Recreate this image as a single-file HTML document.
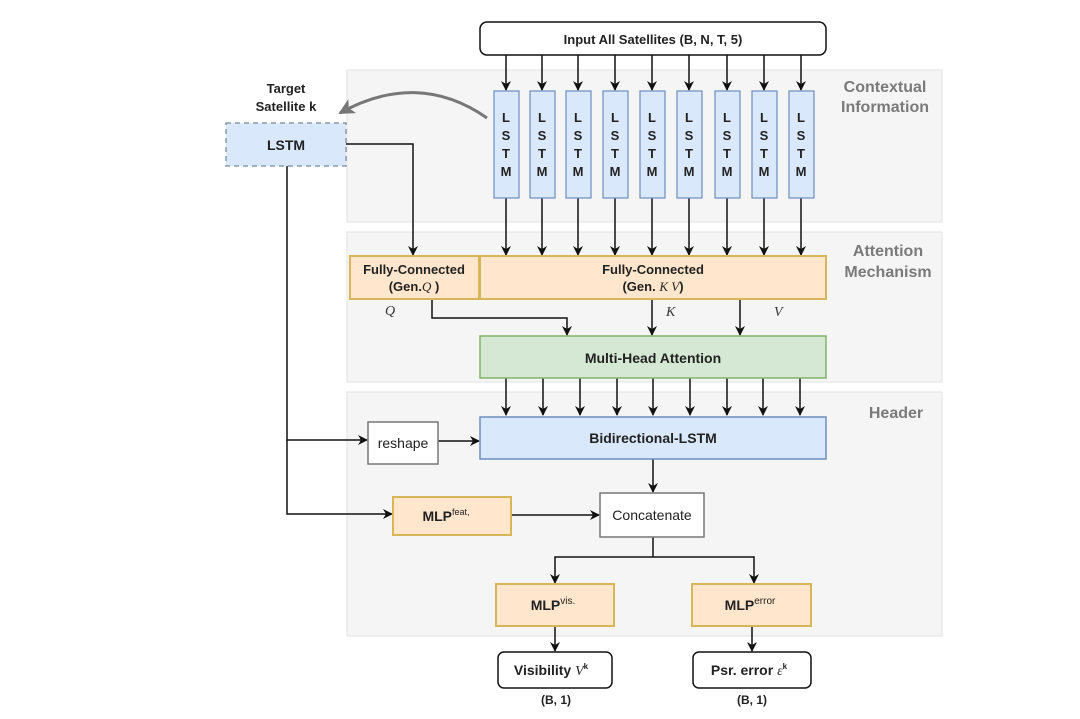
<!DOCTYPE html>
<html><head><meta charset="utf-8"><style>
html,body{margin:0;padding:0;background:#fff;}
svg{display:block;font-family:"Liberation Sans",sans-serif;}
</style></head><body>
<svg width="1080" height="719" viewBox="0 0 1080 719" xmlns="http://www.w3.org/2000/svg">
<defs>
<marker id="a" markerWidth="10" markerHeight="10" refX="9" refY="5" orient="auto" markerUnits="userSpaceOnUse">
<path d="M0,0 L10,5 L0,10 L3,5 z" fill="#111"/></marker>
<marker id="g" markerWidth="16" markerHeight="16" refX="14" refY="8" orient="auto" markerUnits="userSpaceOnUse">
<path d="M0,0 L16,8 L0,16 L4,8 z" fill="#777"/></marker>
</defs>
<rect x="347" y="70" width="595" height="152" fill="#f5f5f5" stroke="#e2e2e2"/>
<rect x="347" y="232" width="595" height="150" fill="#f5f5f5" stroke="#e2e2e2"/>
<rect x="347" y="392" width="595" height="244" fill="#f5f5f5" stroke="#e2e2e2"/>
<g fill="#7a7a7a" font-weight="bold" font-size="16" text-anchor="middle">
<text x="885" y="92">Contextual</text><text x="885" y="112">Information</text>
<text x="888" y="256">Attention</text><text x="888" y="277">Mechanism</text>
<text x="896" y="418">Header</text></g>
<rect x="480" y="22" width="346" height="33" rx="7" fill="#fff" stroke="#111" stroke-width="1.5"/>
<text x="653" y="44" font-size="13" font-weight="bold" text-anchor="middle" fill="#222">Input All Satellites (B, N, T, 5)</text>
<g stroke="#111" stroke-width="1.5" fill="none" marker-end="url(#a)">
<path d="M506,55V90"/><path d="M542,55V90"/><path d="M578,55V90"/><path d="M615,55V90"/><path d="M652,55V90"/><path d="M689,55V90"/><path d="M727,55V90"/><path d="M764,55V90"/><path d="M801,55V90"/>
<path d="M506,198V255"/><path d="M542,198V255"/><path d="M578,198V255"/><path d="M615,198V255"/><path d="M652,198V255"/><path d="M689,198V255"/><path d="M727,198V255"/><path d="M764,198V255"/><path d="M801,198V255"/>
<path d="M506,378V415"/><path d="M543,378V415"/><path d="M580,378V415"/><path d="M617,378V415"/><path d="M653,378V415"/><path d="M690,378V415"/><path d="M727,378V415"/><path d="M763,378V415"/><path d="M800,378V415"/>
</g>
<g fill="#dae8fc" stroke="#6c8ebf" stroke-width="1.2">
<rect x="494" y="91" width="25" height="107"/><rect x="530" y="91" width="25" height="107"/><rect x="566" y="91" width="25" height="107"/><rect x="603" y="91" width="25" height="107"/><rect x="640" y="91" width="25" height="107"/><rect x="677" y="91" width="25" height="107"/><rect x="715" y="91" width="25" height="107"/><rect x="752" y="91" width="25" height="107"/><rect x="789" y="91" width="25" height="107"/>
</g>
<g font-size="13" font-weight="bold" fill="#222" text-anchor="middle">
<text y="122"><tspan x="506">L</tspan><tspan x="542">L</tspan><tspan x="578">L</tspan><tspan x="615">L</tspan><tspan x="652">L</tspan><tspan x="689">L</tspan><tspan x="727">L</tspan><tspan x="764">L</tspan><tspan x="801">L</tspan></text>
<text y="140"><tspan x="506">S</tspan><tspan x="542">S</tspan><tspan x="578">S</tspan><tspan x="615">S</tspan><tspan x="652">S</tspan><tspan x="689">S</tspan><tspan x="727">S</tspan><tspan x="764">S</tspan><tspan x="801">S</tspan></text>
<text y="158"><tspan x="506">T</tspan><tspan x="542">T</tspan><tspan x="578">T</tspan><tspan x="615">T</tspan><tspan x="652">T</tspan><tspan x="689">T</tspan><tspan x="727">T</tspan><tspan x="764">T</tspan><tspan x="801">T</tspan></text>
<text y="176"><tspan x="506">M</tspan><tspan x="542">M</tspan><tspan x="578">M</tspan><tspan x="615">M</tspan><tspan x="652">M</tspan><tspan x="689">M</tspan><tspan x="727">M</tspan><tspan x="764">M</tspan><tspan x="801">M</tspan></text>
</g>
<text x="286" y="93" font-size="13" font-weight="bold" text-anchor="middle" fill="#222">Target</text>
<text x="286" y="111" font-size="13" font-weight="bold" text-anchor="middle" fill="#222">Satellite k</text>
<path d="M487,118 C440,85 390,85 340,113" stroke="#777" stroke-width="3" fill="none" marker-end="url(#g)"/>
<rect x="226" y="123" width="120" height="43" fill="#dae8fc" stroke="#8a9aaa" stroke-width="1.5" stroke-dasharray="5,4"/>
<text x="286" y="150" font-size="14" font-weight="bold" text-anchor="middle" fill="#222">LSTM</text>
<g stroke="#111" stroke-width="1.5" fill="none">
<path d="M346,144H413V255" marker-end="url(#a)"/>
<path d="M287,166V440H367" marker-end="url(#a)"/>
<path d="M287,440V514H392" marker-end="url(#a)"/>
<path d="M432,299V318H567V335" marker-end="url(#a)"/>
<path d="M652,299V335" marker-end="url(#a)"/>
<path d="M740,299V335" marker-end="url(#a)"/>
<path d="M438,441H479" marker-end="url(#a)"/>
<path d="M653,459V492" marker-end="url(#a)"/>
<path d="M511,515H599" marker-end="url(#a)"/>
<path d="M653,537V557"/>
<path d="M653,557H555V583" marker-end="url(#a)"/>
<path d="M653,557H754V583" marker-end="url(#a)"/>
<path d="M555,626V651" marker-end="url(#a)"/>
<path d="M752,626V651" marker-end="url(#a)"/>
</g>
<rect x="350" y="256" width="129" height="43" fill="#ffe6cc" stroke="#d6b656" stroke-width="2"/>
<rect x="480" y="256" width="346" height="43" fill="#ffe6cc" stroke="#d6b656" stroke-width="2"/>
<g font-size="13" font-weight="bold" text-anchor="middle" fill="#222">
<text x="414" y="274">Fully-Connected</text><text x="414" y="291">(Gen.<tspan font-style="italic" font-family="Liberation Serif" font-weight="normal">Q</tspan> )</text>
<text x="653" y="274">Fully-Connected</text><text x="653" y="291">(Gen. <tspan font-style="italic" font-family="Liberation Serif" font-weight="normal">K V</tspan>)</text>
</g>
<g font-size="14" font-style="italic" font-family="Liberation Serif" fill="#333">
<text x="385" y="315">Q</text><text x="666" y="316">K</text><text x="774" y="316">V</text></g>
<rect x="480" y="336" width="346" height="42" fill="#d5e8d4" stroke="#82b366" stroke-width="1.5"/>
<text x="653" y="363" font-size="14" font-weight="bold" text-anchor="middle" fill="#222">Multi-Head Attention</text>
<rect x="480" y="417" width="346" height="42" fill="#dae8fc" stroke="#6c8ebf" stroke-width="1.5"/>
<text x="653" y="443" font-size="14" font-weight="bold" text-anchor="middle" fill="#222">Bidirectional-LSTM</text>
<rect x="368" y="422" width="70" height="42" fill="#fff" stroke="#777" stroke-width="1.5"/>
<text x="403" y="448" font-size="14" text-anchor="middle" fill="#222">reshape</text>
<rect x="393" y="497" width="118" height="38" fill="#ffe6cc" stroke="#d6b656" stroke-width="2"/>
<text x="446" y="521" font-size="14" font-weight="bold" text-anchor="middle" fill="#222">MLP<tspan font-size="9" font-weight="normal" dy="-6">feat,</tspan></text>
<rect x="600" y="493" width="104" height="44" fill="#fff" stroke="#777" stroke-width="1.5"/>
<text x="652" y="520" font-size="14" text-anchor="middle" fill="#222">Concatenate</text>
<rect x="496" y="584" width="118" height="42" fill="#ffe6cc" stroke="#d6b656" stroke-width="2"/>
<text x="553" y="610" font-size="14" font-weight="bold" text-anchor="middle" fill="#222">MLP<tspan font-size="10" font-weight="normal" dy="-6">vis.</tspan></text>
<rect x="692" y="584" width="119" height="42" fill="#ffe6cc" stroke="#d6b656" stroke-width="2"/>
<text x="750" y="610" font-size="14" font-weight="bold" text-anchor="middle" fill="#222">MLP<tspan font-size="10" font-weight="normal" dy="-6">error</tspan></text>
<rect x="498" y="652" width="114" height="36" rx="6" fill="#fff" stroke="#111" stroke-width="1.5"/>
<text x="551" y="675" font-size="14" font-weight="bold" text-anchor="middle" fill="#222">Visibility <tspan font-family="Liberation Serif" font-style="italic" font-weight="normal">V</tspan><tspan font-size="8" dy="-6">k</tspan></text>
<rect x="693" y="652" width="118" height="36" rx="6" fill="#fff" stroke="#111" stroke-width="1.5"/>
<text x="749" y="675" font-size="14" font-weight="bold" text-anchor="middle" fill="#222">Psr. error <tspan font-family="Liberation Serif" font-style="italic" font-weight="normal">ε</tspan><tspan font-size="8" dy="-6">k</tspan></text>
<text x="556" y="704" font-size="12" font-weight="bold" text-anchor="middle" fill="#222">(B, 1)</text>
<text x="752" y="704" font-size="12" font-weight="bold" text-anchor="middle" fill="#222">(B, 1)</text>
</svg>
</body></html>
